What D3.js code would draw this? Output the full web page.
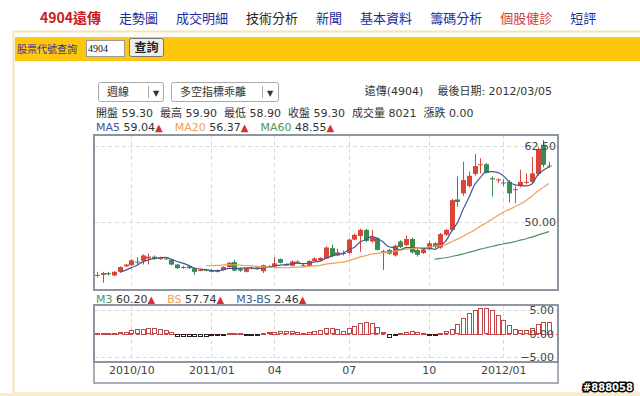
<!DOCTYPE html>
<html>
<head>
<meta charset="utf-8">
<script src="https://d3js.org/d3.v7.min.js"></script>
<style>
  body { margin: 0; background: #fff; }
  svg text { font-family: "DejaVu Sans", "Noto Sans CJK TC", sans-serif; }
  .cjk { font-family: "Noto Sans CJK TC", sans-serif; }
  .grid { stroke: #dadada; stroke-dasharray: 4 3; shape-rendering: crispEdges; }
  .frame { fill: none; stroke: #8a96a2; stroke-width: 2; }
  .axis text { font-size: 11px; fill: #444; }
</style>
</head>
<body>
<script>

////////////////////////////////////////////////////////////
//////////////////////// Data //////////////////////////////
////////////////////////////////////////////////////////////

// weekly candles, 2010/08 .. 2012/03/05 (index = week)
const opens  = [41.3,41.3,41.6,41.2,41.8,42.7,42.9,43.5,43.6,44.0, 44.3,43.9,44.0,43.8,43.0,42.5,42.7,42.4,42.1,42.1,
                42.1,41.8,42.1,42.6,43.4,42.3,41.8,42.4,42.3,41.9, 42.7,42.7,43.9,43.0,42.8,43.5,42.9,42.8,43.6,43.7,
                44.0,45.7,44.5,44.9,44.9,47.1,47.7,48.7,46.8,47.3, 45.2,45.4,44.5,46.8,46.2,47.2,45.4,44.9,45.5,46.5,
                45.8,47.9,48.7,53.7,54.7,55.9,57.9,59.4,59.5,57.2, 57.0,56.5,56.6,55.3,55.9,56.5,56.6,57.9,62.7,59.3];
const highs  = [41.8,41.8,41.8,41.9,42.7,43.1,43.9,44.2,44.7,44.8, 44.5,44.3,44.2,43.9,43.1,42.8,42.8,42.5,42.3,42.3,
                42.2,42.2,42.7,43.4,43.8,42.5,42.5,42.7,42.7,43.0, 42.9,44.2,44.0,43.2,43.7,43.7,43.1,43.7,44.2,44.2,
                46.0,46.3,45.6,45.3,47.3,48.1,48.9,48.9,48.7,47.5, 45.4,45.6,46.3,47.0,47.8,47.4,45.6,45.7,46.9,46.7,
                48.2,48.9,53.8,57.5,59.9,58.3,61.2,60.5,59.7,57.5, 57.2,57.0,56.9,55.8,58.6,58.0,60.7,62.3,63.5,59.9];
const lows   = [40.9,40.0,41.2,41.1,41.7,42.6,42.8,42.9,43.0,43.0, 43.8,43.8,43.8,42.9,42.3,42.3,42.3,41.3,41.9,41.9,
                41.7,41.7,42.0,42.5,41.9,41.8,41.7,42.2,42.2,41.6, 42.5,42.6,43.2,42.8,42.7,43.2,42.7,42.7,43.5,43.6,
                43.9,44.2,44.4,44.5,44.7,47.0,45.1,46.7,46.6,45.3, 42.1,44.6,44.3,45.7,46.0,44.8,44.3,44.7,45.4,45.7,
                45.6,47.7,48.5,52.5,54.3,55.7,57.6,58.0,58.0,54.2, 56.4,55.9,53.2,53.1,55.7,56.2,56.4,57.6,59.0,58.9];
const closes = [41.3,41.6,41.4,41.8,42.6,43.0,43.7,43.4,44.5,44.3, 44.0,44.2,43.95,43.0,42.4,42.6,42.4,41.8,42.1,42.05,
                41.8,42.1,42.6,43.3,42.0,42.0,42.4,42.5,42.55,42.9, 42.65,43.2,43.3,42.9,43.5,43.3,42.8,43.6,44.0,44.1,
                45.8,44.4,45.0,44.9,47.1,47.9,48.7,46.9,47.5,45.4, 45.0,44.8,46.1,45.9,47.2,45.0,44.6,45.5,46.5,45.9,
                48.0,48.7,53.6,53.3,56.9,57.6,59.2,59.5,58.1,57.0, 57.0,56.4,54.7,55.4,56.6,56.6,58.0,62.0,59.4,59.3];

// M3-BS histogram
const m3bs = [0.05,0.1,0.1,0.15,0.3,0.35,0.7,0.9,1.0,1.1, 1.1,1.0,0.7,0.4,-0.4,-0.5,-0.5,-0.5,-0.5,-0.4,
              -0.3,-0.3,-0.2,0.1,0.2,0.05,-0.05,-0.2,-0.05,0.2, 0.3,0.4,0.5,0.5,0.5,0.4,0.1,0.4,0.6,0.8,
              1.1,1.1,1.0,0.6,1.1,1.7,2.3,2.5,2.2,1.3, 0.3,-0.6,-0.3,0.1,0.4,0.6,0.4,0.1,-0.3,-0.3,
              0.1,0.5,1.0,2.0,3.3,4.4,5.1,5.5,5.4,5.0, 4.0,2.9,1.8,1.0,0.7,0.7,1.2,2.0,2.5,2.46];

const tickLabels = ["2010/10", "2011/01", "04", "07", "10", "2012/01"];
const tickWeeks  = [6, 20, 31, 44, 58, 71];
const priceTicks = [50, 62.5];
const oscTicks   = [5, 0, -5];

const navItems  = ["4904遠傳", "走勢圖", "成交明細", "技術分析", "新聞", "基本資料", "籌碼分析", "個股健診", "短評"];
const navColors = ["#c8201e", "#1a2c9c", "#1a2c9c", "#222", "#1a2c9c", "#1a2c9c", "#1a2c9c", "#d23a3a", "#1a2c9c"];

const quoteLabels = ["開盤", "最高", "最低", "收盤", "成交量", "漲跌"];
const quoteValues = ["59.30", "59.90", "58.90", "59.30", "8021", "0.00"];
const maLabels = ["MA5", "MA20", "MA60"];
const maValues = ["59.04", "56.37", "48.55"];
const oscLabels = ["M3", "BS", "M3-BS"];
const oscValues = ["60.20", "57.74", "2.46"];

////////////////////////////////////////////////////////////
///////////////////// Page chrome //////////////////////////
////////////////////////////////////////////////////////////

const svg = d3.select("body").append("svg")
  .attr("width", 640).attr("height", 396);

// nav
let nx = 40;
navItems.forEach((t, i) => {
  const txt = svg.append("text").attr("class", "cjk")
    .attr("x", nx).attr("y", 23)
    .style("font-size", i === 0 ? "14px" : "13px")
    .style("font-weight", i === 0 ? "bold" : "normal")
    .style("fill", navColors[i])
    .text(t);
  nx += txt.node().getComputedTextLength() + 18;
});

// pale frame
svg.append("rect").attr("x", 13.5).attr("y", 31.5).attr("width", 640).attr("height", 362)
  .style("fill", "none").style("stroke", "#f4e6b2").style("stroke-width", 2);
svg.append("rect").attr("x", 0).attr("y", 393).attr("width", 640).attr("height", 3).style("fill", "#f7edc6");

// yellow search bar
svg.append("rect").attr("x", 15).attr("y", 37).attr("width", 625).attr("height", 24).style("fill", "#fdc70d");
svg.append("text").attr("class", "cjk").attr("x", 17).attr("y", 52.5)
  .style("font-size", "10px").style("fill", "#3b2aa0").text("股票代號查詢");
svg.append("rect").attr("x", 86.5).attr("y", 40.5).attr("width", 38).attr("height", 16)
  .style("fill", "#fff").style("stroke", "#999");
svg.append("text").attr("x", 88).attr("y", 52).style("font-family", "Liberation Serif")
  .style("font-size", "10px").style("fill", "#111").text("4904");
svg.append("rect").attr("x", 129.5).attr("y", 38.5).attr("width", 34).attr("height", 18).attr("rx", 2)
  .style("fill", "#eeeeea").style("stroke", "#777");
svg.append("text").attr("class", "cjk").attr("x", 146.5).attr("y", 52).attr("text-anchor", "middle")
  .style("font-size", "12px").style("font-weight", "bold").style("fill", "#222").text("查詢");

// dropdowns
function dropdown(x0, w, sep, label) {
  svg.append("rect").attr("x", x0 + 0.5).attr("y", 82.5).attr("width", w).attr("height", 19).attr("rx", 2)
    .style("fill", "#fff").style("stroke", "#a9a9a9");
  svg.append("line").attr("x1", x0 + sep + 0.5).attr("x2", x0 + sep + 0.5).attr("y1", 86).attr("y2", 98)
    .style("stroke", "#aaa");
  svg.append("text").attr("class", "cjk").attr("x", x0 + 9).attr("y", 96)
    .style("font-size", "11px").style("fill", "#333").text(label);
  svg.append("text").attr("x", x0 + sep + 8).attr("y", 95.5).attr("text-anchor", "middle")
    .style("font-size", "8px").style("fill", "#333").text("▼");
}
dropdown(98, 65, 50, "週線");
dropdown(171, 107, 91, "多空指標乖離");

svg.append("text").attr("x", 552).attr("y", 95).attr("text-anchor", "end")
  .style("font-size", "11px").style("fill", "#333").style("white-space", "pre")
  .text("遠傳(4904)    最後日期: 2012/03/05");

// quote line
const q = svg.append("text").attr("x", 96).attr("y", 117).style("font-size", "11px").style("fill", "#333");
quoteLabels.forEach((l, i) => {
  q.append("tspan").attr("dx", i ? 7 : 0).text(l + " ");
  q.append("tspan").text(quoteValues[i]);
});

function legendLine(yPos, labels, values, colors) {
  const t = svg.append("text").attr("x", 96).attr("y", yPos).style("font-size", "11px");
  labels.forEach((l, i) => {
    t.append("tspan").attr("dx", i ? 12 : 0).style("fill", colors[i]).text(l + " ");
    t.append("tspan").style("fill", "#333").text(values[i]);
    t.append("tspan").style("fill", "#d8302a").style("font-size", "10px").text("▲");
  });
}
const ma5Color = "#3e5896", ma20Color = "#f0a05a", ma60Color = "#4f9460";
legendLine(131, maLabels, maValues, [ma5Color, ma20Color, ma60Color]);

////////////////////////////////////////////////////////////
////////////////////// Price chart /////////////////////////
////////////////////////////////////////////////////////////

const plot = { left: 94, right: 558, top: 135, bottom: 290 };
const x = d3.scalePoint().domain(d3.range(closes.length)).range([97, 549]);
const y = d3.scaleLinear().domain([50, 62.5]).range([222, 146]);

svg.append("clipPath").attr("id", "clipMain").append("rect")
  .attr("x", plot.left).attr("y", plot.top).attr("width", plot.right - plot.left).attr("height", plot.bottom - plot.top);

const main = svg.append("g");
main.selectAll(".vgrid").data(tickWeeks).join("line").attr("class", "grid")
  .attr("x1", d => Math.round(x(d)) + 0.5).attr("x2", d => Math.round(x(d)) + 0.5)
  .attr("y1", plot.top).attr("y2", plot.bottom);
main.selectAll(".hgrid").data(priceTicks).join("line").attr("class", "grid")
  .attr("x1", plot.left).attr("x2", plot.right)
  .attr("y1", d => Math.round(y(d)) + 0.5).attr("y2", d => Math.round(y(d)) + 0.5);

const up = "#dc4536", down = "#3a8a52";
const candles = main.append("g").attr("clip-path", "url(#clipMain)");
const idx = d3.range(closes.length);
const col = i => closes[i] >= opens[i] ? up : down;

candles.selectAll(".wick").data(idx).join("line")
  .attr("x1", i => Math.round(x(i)) + 0.5).attr("x2", i => Math.round(x(i)) + 0.5)
  .attr("y1", i => y(highs[i])).attr("y2", i => y(lows[i]))
  .style("stroke", col).style("stroke-width", 1);
candles.selectAll(".body").data(idx).join("rect")
  .attr("x", i => Math.round(x(i)) - 2)
  .attr("width", 5)
  .attr("y", i => y(Math.max(opens[i], closes[i])))
  .attr("height", i => Math.max(1, Math.abs(y(opens[i]) - y(closes[i]))))
  .style("fill", col);

// moving averages of the closes
function movingAvg(vals, n) {
  return vals.map((v, i) => i < n - 1 ? null : d3.mean(vals.slice(i - n + 1, i + 1)));
}
const maLine = d3.line().defined(d => d[1] != null).x(d => x(d[0])).y(d => y(d[1])).curve(d3.curveMonotoneX);
[[5, ma5Color], [20, ma20Color], [60, ma60Color]].forEach(([n, c]) => {
  const ma = movingAvg(closes, n).map((v, i) => [i, v]);
  candles.append("path").datum(ma).attr("d", maLine)
    .style("fill", "none").style("stroke", c).style("stroke-width", 1.2);
});

main.append("g").attr("class", "axis").attr("transform", "translate(559,0)")
  .call(d3.axisLeft(y).tickValues(priceTicks).tickSize(0).tickPadding(3).tickFormat(d3.format(".2f")))
  .call(g => g.select(".domain").remove());

main.append("rect").attr("class", "frame")
  .attr("x", plot.left).attr("y", plot.top).attr("width", plot.right - plot.left).attr("height", plot.bottom - plot.top);

////////////////////////////////////////////////////////////
////////////////////// Oscillator //////////////////////////
////////////////////////////////////////////////////////////

legendLine(303, oscLabels, oscValues, [ma60Color, ma20Color, ma5Color]);

const sub = { top: 305, bottom: 362 };
const ys = d3.scaleLinear().domain([-5, 5]).range([357, 310]);
const osc = svg.append("g");

osc.selectAll(".vgrid").data(tickWeeks).join("line").attr("class", "grid")
  .attr("x1", d => Math.round(x(d)) + 0.5).attr("x2", d => Math.round(x(d)) + 0.5)
  .attr("y1", sub.top).attr("y2", sub.bottom);
osc.selectAll(".hgrid").data([5, -5]).join("line").attr("class", "grid")
  .attr("x1", plot.left).attr("x2", plot.right)
  .attr("y1", d => Math.round(ys(d)) + 0.5).attr("y2", d => Math.round(ys(d)) + 0.5);
osc.append("line")
  .attr("x1", plot.left).attr("x2", plot.right)
  .attr("y1", Math.round(ys(0)) + 0.5).attr("y2", Math.round(ys(0)) + 0.5)
  .style("stroke", "#d24a4a").style("stroke-dasharray", "4 3");

osc.selectAll(".bar").data(idx).join("rect")
  .attr("x", i => Math.round(x(i)) - 1.5)
  .attr("width", 4)
  .attr("y", i => Math.round(Math.min(ys(m3bs[i]), ys(0))) + 0.5)
  .attr("height", i => Math.max(1, Math.round(Math.abs(ys(m3bs[i]) - ys(0)))))
  .style("fill", "#fff")
  .style("stroke", i => m3bs[i] >= 0 ? "#c0474a" : "#222")
  .style("stroke-width", 1);

osc.append("g").attr("class", "axis").attr("transform", "translate(557,0)")
  .call(d3.axisLeft(ys).tickValues(oscTicks).tickSize(0).tickPadding(3).tickFormat(d3.format(".2f")))
  .call(g => g.select(".domain").remove());

osc.append("rect").attr("class", "frame")
  .attr("x", plot.left).attr("y", sub.top).attr("width", plot.right - plot.left).attr("height", sub.bottom - sub.top);

// time axis strip
svg.append("path").attr("d", `M${plot.left},${sub.bottom}V383H${plot.right}V${sub.bottom}`)
  .style("fill", "none").style("stroke", "#8a96a2").style("stroke-width", 1.5);
svg.append("g").attr("class", "axis").attr("transform", `translate(0,${sub.bottom})`)
  .call(d3.axisBottom(x).tickValues(tickWeeks).tickSize(0).tickPadding(4).tickFormat((d, i) => tickLabels[i]))
  .call(g => g.select(".domain").remove());

// watermark
svg.append("text").attr("x", 633).attr("y", 391).attr("text-anchor", "end")
  .style("font-size", "10px").style("font-weight", "bold")
  .style("fill", "#fff").style("stroke", "#000").style("stroke-width", 3)
  .style("paint-order", "stroke").text("#888058");

</script>
</body>
</html>
